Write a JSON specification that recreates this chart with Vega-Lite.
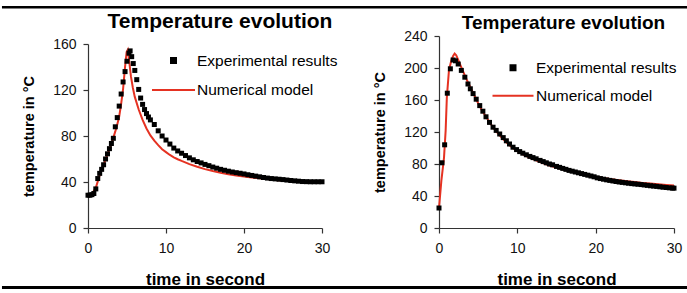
{
  "$schema": "https://vega.github.io/schema/vega-lite/v6.json",
  "background": "white",
  "padding": {"left": 0, "top": 6, "right": 0, "bottom": 4},
  "spacing": 117,
  "bounds": "flush",
  "config": {
    "font": "Liberation Sans",
    "view": {"stroke": null},
    "axis": {
      "grid": false,
      "domainColor": "#333",
      "tickColor": "#333",
      "domainWidth": 1.2,
      "tickWidth": 1.2,
      "labelColor": "#111",
      "labelFont": "Liberation Sans",
      "labelFontSize": 14,
      "labelOverlap": false,
      "titleFont": "Liberation Sans",
      "titleFontWeight": "bold",
      "titleColor": "#000",
      "tickSize": 5
    },
    "legend": {
      "orient": "none",
      "padding": 0,
      "clipHeight": 20,
      "symbolOffset": 0,
      "labelFont": "Liberation Sans",
      "labelFontSize": 15.5,
      "labelColor": "#000",
      "symbolStrokeWidth": 2
    }
  },
  "resolve": {
    "scale": {"x": "independent", "y": "independent", "color": "independent"},
    "legend": {"color": "independent"}
  },
  "datasets": {
    "left": [
      {"time": 0, "temp": 28.5, "series": "Experimental results"},
      {"time": 0.25, "temp": 28.5, "series": "Experimental results"},
      {"time": 0.5, "temp": 29, "series": "Experimental results"},
      {"time": 0.75, "temp": 30, "series": "Experimental results"},
      {"time": 1.0, "temp": 34, "series": "Experimental results"},
      {"time": 1.25, "temp": 43, "series": "Experimental results"},
      {"time": 1.5, "temp": 47.5, "series": "Experimental results"},
      {"time": 1.75, "temp": 51, "series": "Experimental results"},
      {"time": 2.0, "temp": 55, "series": "Experimental results"},
      {"time": 2.25, "temp": 60, "series": "Experimental results"},
      {"time": 2.5, "temp": 64.5, "series": "Experimental results"},
      {"time": 2.75, "temp": 69, "series": "Experimental results"},
      {"time": 3.0, "temp": 73.5, "series": "Experimental results"},
      {"time": 3.25, "temp": 78, "series": "Experimental results"},
      {"time": 3.5, "temp": 88, "series": "Experimental results"},
      {"time": 3.75, "temp": 96, "series": "Experimental results"},
      {"time": 4.0, "temp": 106, "series": "Experimental results"},
      {"time": 4.25, "temp": 116.5, "series": "Experimental results"},
      {"time": 4.5, "temp": 127, "series": "Experimental results"},
      {"time": 4.75, "temp": 136, "series": "Experimental results"},
      {"time": 5.0, "temp": 145, "series": "Experimental results"},
      {"time": 5.25, "temp": 152, "series": "Experimental results"},
      {"time": 5.4, "temp": 154, "series": "Experimental results"},
      {"time": 5.6, "temp": 149, "series": "Experimental results"},
      {"time": 5.8, "temp": 143, "series": "Experimental results"},
      {"time": 6.0, "temp": 137, "series": "Experimental results"},
      {"time": 6.25, "temp": 129, "series": "Experimental results"},
      {"time": 6.5, "temp": 120.5, "series": "Experimental results"},
      {"time": 6.75, "temp": 113, "series": "Experimental results"},
      {"time": 7.0, "temp": 107.5, "series": "Experimental results"},
      {"time": 7.25, "temp": 103, "series": "Experimental results"},
      {"time": 7.5, "temp": 99.5, "series": "Experimental results"},
      {"time": 7.75, "temp": 96.5, "series": "Experimental results"},
      {"time": 8.0, "temp": 94, "series": "Experimental results"},
      {"time": 8.5, "temp": 90, "series": "Experimental results"},
      {"time": 9.0, "temp": 84.5, "series": "Experimental results"},
      {"time": 9.5, "temp": 80, "series": "Experimental results"},
      {"time": 10, "temp": 76.5, "series": "Experimental results"},
      {"time": 10.5, "temp": 73, "series": "Experimental results"},
      {"time": 11, "temp": 69.5, "series": "Experimental results"},
      {"time": 11.5, "temp": 67, "series": "Experimental results"},
      {"time": 12, "temp": 65, "series": "Experimental results"},
      {"time": 12.5, "temp": 63, "series": "Experimental results"},
      {"time": 13, "temp": 61, "series": "Experimental results"},
      {"time": 13.5, "temp": 59.3, "series": "Experimental results"},
      {"time": 14, "temp": 57.8, "series": "Experimental results"},
      {"time": 14.5, "temp": 56.6, "series": "Experimental results"},
      {"time": 15, "temp": 55.3, "series": "Experimental results"},
      {"time": 15.5, "temp": 54.2, "series": "Experimental results"},
      {"time": 16, "temp": 53, "series": "Experimental results"},
      {"time": 16.5, "temp": 52, "series": "Experimental results"},
      {"time": 17, "temp": 51, "series": "Experimental results"},
      {"time": 17.5, "temp": 50.2, "series": "Experimental results"},
      {"time": 18, "temp": 49.4, "series": "Experimental results"},
      {"time": 18.5, "temp": 48.7, "series": "Experimental results"},
      {"time": 19, "temp": 48.1, "series": "Experimental results"},
      {"time": 19.5, "temp": 47.6, "series": "Experimental results"},
      {"time": 20, "temp": 47, "series": "Experimental results"},
      {"time": 20.5, "temp": 46.3, "series": "Experimental results"},
      {"time": 21, "temp": 45.7, "series": "Experimental results"},
      {"time": 21.5, "temp": 45.1, "series": "Experimental results"},
      {"time": 22, "temp": 44.5, "series": "Experimental results"},
      {"time": 22.5, "temp": 43.9, "series": "Experimental results"},
      {"time": 23, "temp": 43.4, "series": "Experimental results"},
      {"time": 23.5, "temp": 43, "series": "Experimental results"},
      {"time": 24, "temp": 42.7, "series": "Experimental results"},
      {"time": 24.5, "temp": 42.4, "series": "Experimental results"},
      {"time": 25, "temp": 42.1, "series": "Experimental results"},
      {"time": 25.5, "temp": 41.7, "series": "Experimental results"},
      {"time": 26, "temp": 41.3, "series": "Experimental results"},
      {"time": 26.5, "temp": 41, "series": "Experimental results"},
      {"time": 27, "temp": 40.7, "series": "Experimental results"},
      {"time": 27.5, "temp": 40.4, "series": "Experimental results"},
      {"time": 28, "temp": 40.3, "series": "Experimental results"},
      {"time": 28.5, "temp": 40.2, "series": "Experimental results"},
      {"time": 29, "temp": 40.2, "series": "Experimental results"},
      {"time": 29.5, "temp": 40.2, "series": "Experimental results"},
      {"time": 30, "temp": 40.2, "series": "Experimental results"},
      {"time": 0, "temp": 28.5, "series": "Numerical model"},
      {"time": 0.5, "temp": 29.5, "series": "Numerical model"},
      {"time": 1.0, "temp": 35, "series": "Numerical model"},
      {"time": 1.5, "temp": 46, "series": "Numerical model"},
      {"time": 2.0, "temp": 55, "series": "Numerical model"},
      {"time": 2.5, "temp": 64, "series": "Numerical model"},
      {"time": 3.0, "temp": 73, "series": "Numerical model"},
      {"time": 3.5, "temp": 84, "series": "Numerical model"},
      {"time": 3.75, "temp": 90, "series": "Numerical model"},
      {"time": 4.0, "temp": 97, "series": "Numerical model"},
      {"time": 4.25, "temp": 108, "series": "Numerical model"},
      {"time": 4.5, "temp": 121, "series": "Numerical model"},
      {"time": 4.75, "temp": 140, "series": "Numerical model"},
      {"time": 4.95, "temp": 153, "series": "Numerical model"},
      {"time": 5.1, "temp": 155, "series": "Numerical model"},
      {"time": 5.3, "temp": 144, "series": "Numerical model"},
      {"time": 5.5, "temp": 132, "series": "Numerical model"},
      {"time": 5.75, "temp": 122, "series": "Numerical model"},
      {"time": 6.0, "temp": 114, "series": "Numerical model"},
      {"time": 6.5, "temp": 103, "series": "Numerical model"},
      {"time": 7.0, "temp": 94, "series": "Numerical model"},
      {"time": 7.5, "temp": 86.5, "series": "Numerical model"},
      {"time": 8.0, "temp": 80.5, "series": "Numerical model"},
      {"time": 8.5, "temp": 76, "series": "Numerical model"},
      {"time": 9.0, "temp": 72, "series": "Numerical model"},
      {"time": 9.5, "temp": 68.5, "series": "Numerical model"},
      {"time": 10, "temp": 66, "series": "Numerical model"},
      {"time": 10.5, "temp": 63.5, "series": "Numerical model"},
      {"time": 11, "temp": 61.5, "series": "Numerical model"},
      {"time": 11.5, "temp": 59.8, "series": "Numerical model"},
      {"time": 12, "temp": 58.3, "series": "Numerical model"},
      {"time": 13, "temp": 55.5, "series": "Numerical model"},
      {"time": 14, "temp": 53.2, "series": "Numerical model"},
      {"time": 15, "temp": 51.2, "series": "Numerical model"},
      {"time": 16, "temp": 49.5, "series": "Numerical model"},
      {"time": 17, "temp": 48, "series": "Numerical model"},
      {"time": 18, "temp": 46.8, "series": "Numerical model"},
      {"time": 19, "temp": 45.7, "series": "Numerical model"},
      {"time": 20, "temp": 44.8, "series": "Numerical model"},
      {"time": 21, "temp": 44, "series": "Numerical model"},
      {"time": 22, "temp": 43.2, "series": "Numerical model"},
      {"time": 23, "temp": 42.5, "series": "Numerical model"},
      {"time": 24, "temp": 41.8, "series": "Numerical model"},
      {"time": 25, "temp": 41.2, "series": "Numerical model"},
      {"time": 26, "temp": 40.7, "series": "Numerical model"},
      {"time": 27, "temp": 40.2, "series": "Numerical model"},
      {"time": 28, "temp": 39.8, "series": "Numerical model"},
      {"time": 29, "temp": 39.5, "series": "Numerical model"},
      {"time": 30, "temp": 39.3, "series": "Numerical model"}
    ],
    "right": [
      {"time": 0, "temp": 25, "series": "Experimental results"},
      {"time": 0.38, "temp": 81.5, "series": "Experimental results"},
      {"time": 0.72, "temp": 104, "series": "Experimental results"},
      {"time": 1.06, "temp": 168.5, "series": "Experimental results"},
      {"time": 1.45, "temp": 199, "series": "Experimental results"},
      {"time": 1.8, "temp": 210, "series": "Experimental results"},
      {"time": 2.1, "temp": 209, "series": "Experimental results"},
      {"time": 2.45, "temp": 205, "series": "Experimental results"},
      {"time": 2.85, "temp": 197, "series": "Experimental results"},
      {"time": 3.3, "temp": 188.5, "series": "Experimental results"},
      {"time": 3.7, "temp": 180, "series": "Experimental results"},
      {"time": 4.0, "temp": 174, "series": "Experimental results"},
      {"time": 4.35, "temp": 168, "series": "Experimental results"},
      {"time": 4.75, "temp": 161, "series": "Experimental results"},
      {"time": 5.2, "temp": 153, "series": "Experimental results"},
      {"time": 5.6, "temp": 146, "series": "Experimental results"},
      {"time": 6.0, "temp": 139, "series": "Experimental results"},
      {"time": 6.45, "temp": 132, "series": "Experimental results"},
      {"time": 6.9, "temp": 126, "series": "Experimental results"},
      {"time": 7.3, "temp": 122, "series": "Experimental results"},
      {"time": 7.75, "temp": 117.5, "series": "Experimental results"},
      {"time": 8.2, "temp": 113, "series": "Experimental results"},
      {"time": 8.6, "temp": 109, "series": "Experimental results"},
      {"time": 9.0, "temp": 105, "series": "Experimental results"},
      {"time": 9.45, "temp": 101, "series": "Experimental results"},
      {"time": 9.9, "temp": 98, "series": "Experimental results"},
      {"time": 10.3, "temp": 95.5, "series": "Experimental results"},
      {"time": 10.7, "temp": 93.5, "series": "Experimental results"},
      {"time": 11.15, "temp": 91.5, "series": "Experimental results"},
      {"time": 11.6, "temp": 89.5, "series": "Experimental results"},
      {"time": 12.0, "temp": 88, "series": "Experimental results"},
      {"time": 12.4, "temp": 86.5, "series": "Experimental results"},
      {"time": 12.9, "temp": 84.5, "series": "Experimental results"},
      {"time": 13.3, "temp": 83, "series": "Experimental results"},
      {"time": 13.7, "temp": 81.5, "series": "Experimental results"},
      {"time": 14.1, "temp": 80, "series": "Experimental results"},
      {"time": 14.5, "temp": 79, "series": "Experimental results"},
      {"time": 15.0, "temp": 77, "series": "Experimental results"},
      {"time": 15.4, "temp": 75.8, "series": "Experimental results"},
      {"time": 15.8, "temp": 74.5, "series": "Experimental results"},
      {"time": 16.2, "temp": 73.3, "series": "Experimental results"},
      {"time": 16.6, "temp": 72, "series": "Experimental results"},
      {"time": 17.0, "temp": 71, "series": "Experimental results"},
      {"time": 17.4, "temp": 70, "series": "Experimental results"},
      {"time": 17.8, "temp": 69, "series": "Experimental results"},
      {"time": 18.2, "temp": 68, "series": "Experimental results"},
      {"time": 18.6, "temp": 67, "series": "Experimental results"},
      {"time": 19.0, "temp": 66, "series": "Experimental results"},
      {"time": 19.4, "temp": 65, "series": "Experimental results"},
      {"time": 19.8, "temp": 64, "series": "Experimental results"},
      {"time": 20.2, "temp": 62.7, "series": "Experimental results"},
      {"time": 20.6, "temp": 61.8, "series": "Experimental results"},
      {"time": 21.0, "temp": 61, "series": "Experimental results"},
      {"time": 21.4, "temp": 60.2, "series": "Experimental results"},
      {"time": 21.8, "temp": 59.5, "series": "Experimental results"},
      {"time": 22.2, "temp": 58.8, "series": "Experimental results"},
      {"time": 22.6, "temp": 58.1, "series": "Experimental results"},
      {"time": 23.0, "temp": 57.5, "series": "Experimental results"},
      {"time": 23.4, "temp": 57, "series": "Experimental results"},
      {"time": 23.8, "temp": 56.5, "series": "Experimental results"},
      {"time": 24.2, "temp": 56, "series": "Experimental results"},
      {"time": 24.6, "temp": 55.5, "series": "Experimental results"},
      {"time": 25.0, "temp": 55.1, "series": "Experimental results"},
      {"time": 25.4, "temp": 54.7, "series": "Experimental results"},
      {"time": 25.8, "temp": 54.3, "series": "Experimental results"},
      {"time": 26.2, "temp": 53.8, "series": "Experimental results"},
      {"time": 26.6, "temp": 53.3, "series": "Experimental results"},
      {"time": 27.0, "temp": 52.8, "series": "Experimental results"},
      {"time": 27.4, "temp": 52.4, "series": "Experimental results"},
      {"time": 27.8, "temp": 52, "series": "Experimental results"},
      {"time": 28.2, "temp": 51.5, "series": "Experimental results"},
      {"time": 28.6, "temp": 51, "series": "Experimental results"},
      {"time": 29.0, "temp": 50.6, "series": "Experimental results"},
      {"time": 29.4, "temp": 50.2, "series": "Experimental results"},
      {"time": 29.8, "temp": 49.9, "series": "Experimental results"},
      {"time": 30, "temp": 49.8, "series": "Experimental results"},
      {"time": 0, "temp": 25, "series": "Numerical model"},
      {"time": 0.3, "temp": 59, "series": "Numerical model"},
      {"time": 0.64, "temp": 88, "series": "Numerical model"},
      {"time": 0.85, "temp": 122, "series": "Numerical model"},
      {"time": 1.0, "temp": 163, "series": "Numerical model"},
      {"time": 1.27, "temp": 197, "series": "Numerical model"},
      {"time": 1.56, "temp": 209, "series": "Numerical model"},
      {"time": 1.8, "temp": 215, "series": "Numerical model"},
      {"time": 2.0, "temp": 218, "series": "Numerical model"},
      {"time": 2.2, "temp": 216, "series": "Numerical model"},
      {"time": 2.45, "temp": 210, "series": "Numerical model"},
      {"time": 2.8, "temp": 202, "series": "Numerical model"},
      {"time": 3.2, "temp": 193, "series": "Numerical model"},
      {"time": 3.6, "temp": 184, "series": "Numerical model"},
      {"time": 4.0, "temp": 176, "series": "Numerical model"},
      {"time": 4.5, "temp": 166, "series": "Numerical model"},
      {"time": 5.0, "temp": 156, "series": "Numerical model"},
      {"time": 5.5, "temp": 147, "series": "Numerical model"},
      {"time": 6.0, "temp": 139, "series": "Numerical model"},
      {"time": 6.5, "temp": 131.5, "series": "Numerical model"},
      {"time": 7.0, "temp": 124.5, "series": "Numerical model"},
      {"time": 7.5, "temp": 118.5, "series": "Numerical model"},
      {"time": 8.0, "temp": 113, "series": "Numerical model"},
      {"time": 8.5, "temp": 108, "series": "Numerical model"},
      {"time": 9.0, "temp": 103.5, "series": "Numerical model"},
      {"time": 9.5, "temp": 99.5, "series": "Numerical model"},
      {"time": 10, "temp": 96, "series": "Numerical model"},
      {"time": 11, "temp": 90.5, "series": "Numerical model"},
      {"time": 12, "temp": 86, "series": "Numerical model"},
      {"time": 13, "temp": 82, "series": "Numerical model"},
      {"time": 14, "temp": 78.5, "series": "Numerical model"},
      {"time": 15, "temp": 75.5, "series": "Numerical model"},
      {"time": 16, "temp": 72.8, "series": "Numerical model"},
      {"time": 17, "temp": 70.3, "series": "Numerical model"},
      {"time": 18, "temp": 68, "series": "Numerical model"},
      {"time": 19, "temp": 66, "series": "Numerical model"},
      {"time": 20, "temp": 64, "series": "Numerical model"},
      {"time": 21, "temp": 62.5, "series": "Numerical model"},
      {"time": 22, "temp": 61, "series": "Numerical model"},
      {"time": 23, "temp": 59.7, "series": "Numerical model"},
      {"time": 24, "temp": 58.5, "series": "Numerical model"},
      {"time": 25, "temp": 57.4, "series": "Numerical model"},
      {"time": 26, "temp": 56.4, "series": "Numerical model"},
      {"time": 27, "temp": 55.5, "series": "Numerical model"},
      {"time": 28, "temp": 54.6, "series": "Numerical model"},
      {"time": 29, "temp": 53.8, "series": "Numerical model"},
      {"time": 30, "temp": 53, "series": "Numerical model"}
    ]
  },
  "hconcat": [
    {
      "width": 234,
      "height": 192,
      "data": {"name": "left"},
      "resolve": {"axis": {"x": "independent"}},
      "layer": [
        {
          "transform": [{"filter": "datum.series === 'Numerical model'"}],
          "mark": {"type": "line", "strokeWidth": 2},
          "encoding": {
            "x": {"field": "time", "type": "quantitative", "scale": {"domain": [0, 30], "nice": false},
                  "axis": {"values": [0, 10, 20, 30], "title": "time in second", "titleFontSize": 17, "labelPadding": 8, "titlePadding": 16, "labelFlush": false}},
            "y": {"field": "temp", "type": "quantitative", "scale": {"domain": [0, 160], "nice": false, "range": [192, 8]},
                  "axis": {"values": [0, 40, 80, 120, 160], "title": "temperature in °C", "titleFontSize": 14.5, "labelPadding": 7, "titlePadding": 16, "labelOverlap": false}},
            "color": {"field": "series", "type": "nominal",
                      "scale": {"domain": ["Experimental results", "Numerical model"], "range": ["#000000", "#e53222"]},
                      "legend": {"title": null, "legendX": 63, "legendY": 14.5, "rowPadding": 9.5, "labelOffset": 1,
                                 "encode": {"symbols": {"update": {
                                   "shape": {"signal": "(isObject(datum) ? datum.value : datum) === 'Numerical model' ? 'stroke' : 'square'"},
                                   "size": {"signal": "(isObject(datum) ? datum.value : datum) === 'Numerical model' ? 1849 : 25"},
                                   "fill": {"signal": "(isObject(datum) ? datum.value : datum) === 'Numerical model' ? 'transparent' : '#000000'"},
                                   "stroke": {"signal": "(isObject(datum) ? datum.value : datum) === 'Numerical model' ? '#e53222' : 'transparent'"},
                                   "strokeWidth": {"value": 2},
                                   "opacity": {"value": 1}
                                 }}}}}
          }
        },
        {
          "transform": [{"filter": "datum.series === 'Experimental results'"}],
          "mark": {"type": "point", "shape": "square", "filled": true, "size": 25, "opacity": 1},
          "encoding": {
            "x": {"field": "time", "type": "quantitative", "axis": null},
            "y": {"field": "temp", "type": "quantitative"},
            "color": {"field": "series", "type": "nominal"}
          }
        },
        {
          "data": {"values": [{}]},
          "mark": {"type": "rule", "color": "#000", "strokeWidth": 2.5, "clip": false},
          "encoding": {
            "x": {"datum": -11.03, "type": "quantitative",
                  "axis": {"orient": "top", "title": "Temperature evolution", "titleFontSize": 21, "titleBaseline": "alphabetic", "titlePadding": 9, "titleX": 131.5, "domain": false, "ticks": false, "labels": false}},
            "x2": {"datum": 77.05},
            "y": {"datum": 191.9, "type": "quantitative"}
          }
        }
      ]
    },
    {
      "width": 235,
      "height": 192,
      "data": {"name": "right"},
      "resolve": {"axis": {"x": "independent"}},
      "layer": [
        {
          "transform": [{"filter": "datum.series === 'Numerical model'"}],
          "mark": {"type": "line", "strokeWidth": 2},
          "encoding": {
            "x": {"field": "time", "type": "quantitative", "scale": {"domain": [0, 30], "nice": false},
                  "axis": {"values": [0, 10, 20, 30], "title": "time in second", "titleFontSize": 17, "labelPadding": 8, "titlePadding": 16, "labelFlush": false}},
            "y": {"field": "temp", "type": "quantitative", "scale": {"domain": [0, 240], "nice": false},
                  "axis": {"values": [0, 40, 80, 120, 160, 200, 240], "title": "temperature in °C", "titleFontSize": 14.5, "labelPadding": 7, "titlePadding": 16, "labelOverlap": false, "labelSeparation": -30, "labelBound": false}},
            "color": {"field": "series", "type": "nominal",
                      "scale": {"domain": ["Experimental results", "Numerical model"], "range": ["#000000", "#e53222"]},
                      "legend": {"title": null, "legendX": 52.5, "legendY": 21.7, "rowPadding": 8, "labelOffset": 1.5,
                                 "encode": {"symbols": {"update": {
                                   "shape": {"signal": "(isObject(datum) ? datum.value : datum) === 'Numerical model' ? 'stroke' : 'square'"},
                                   "size": {"signal": "(isObject(datum) ? datum.value : datum) === 'Numerical model' ? 1681 : 25"},
                                   "fill": {"signal": "(isObject(datum) ? datum.value : datum) === 'Numerical model' ? 'transparent' : '#000000'"},
                                   "stroke": {"signal": "(isObject(datum) ? datum.value : datum) === 'Numerical model' ? '#e53222' : 'transparent'"},
                                   "strokeWidth": {"value": 2},
                                   "opacity": {"value": 1}
                                 }}}}}
          }
        },
        {
          "transform": [{"filter": "datum.series === 'Experimental results'"}],
          "mark": {"type": "point", "shape": "square", "filled": true, "size": 25, "opacity": 1},
          "encoding": {
            "x": {"field": "time", "type": "quantitative", "axis": null},
            "y": {"field": "temp", "type": "quantitative",
                  "axis": {"values": [0, 40, 80, 120, 160, 200, 240], "title": "temperature in °C", "titleFontSize": 14.5, "labelPadding": 7, "titlePadding": 16, "labelOverlap": false, "labelSeparation": -30, "labelBound": false}},
            "color": {"field": "series", "type": "nominal"}
          }
        },
        {
          "data": {"values": [{}]},
          "mark": {"type": "rule", "color": "#000", "strokeWidth": 3, "clip": false},
          "encoding": {
            "x": {"datum": -55.79, "type": "quantitative",
                  "axis": {"orient": "top", "title": "Temperature evolution", "titleFontSize": 19, "titleBaseline": "alphabetic", "titlePadding": 8, "titleX": 124, "domain": false, "ticks": false, "labels": false}},
            "x2": {"datum": 31.92},
            "y": {"datum": -74.4, "type": "quantitative",
                  "axis": {"values": [0, 40, 80, 120, 160, 200, 240], "title": "temperature in °C", "titleFontSize": 14.5, "labelPadding": 7, "titlePadding": 16, "labelOverlap": false, "labelSeparation": -30, "labelBound": false}}
          }
        }
      ]
    }
  ]
}
